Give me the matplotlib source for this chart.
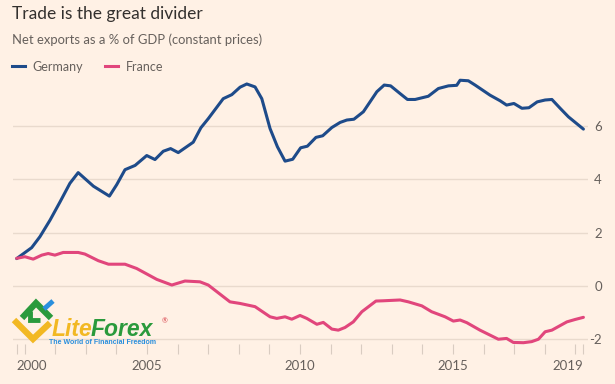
import matplotlib
matplotlib.use("Agg")
import matplotlib.pyplot as plt
from matplotlib.lines import Line2D

# Germany, net exports % of GDP (vertices)
de_year = [2000.74, 2001.23, 2001.50, 2001.83, 2002.16, 2002.48, 2002.75, 2003.25, 2003.77,
           2004.01, 2004.28, 2004.61, 2004.99, 2005.26, 2005.53, 2005.77, 2006.02, 2006.51,
           2006.76, 2007.00, 2007.49, 2007.77, 2008.04, 2008.26, 2008.53, 2008.75, 2009.02,
           2009.26, 2009.51, 2009.76, 2010.02, 2010.24, 2010.52, 2010.74, 2011.04, 2011.31,
           2011.53, 2011.76, 2012.07, 2012.51, 2012.75, 2012.96, 2013.27, 2013.51, 2013.76,
           2014.19, 2014.52, 2014.85, 2015.12, 2015.23, 2015.50, 2015.72, 2016.21, 2016.54,
           2016.75, 2016.99, 2017.25, 2017.48, 2017.75, 2018.01, 2018.23, 2018.50, 2018.77,
           2019.26]
de_val = [1.03, 1.44, 1.85, 2.47, 3.16, 3.85, 4.25, 3.74, 3.37,
          3.80, 4.36, 4.52, 4.89, 4.74, 5.05, 5.15, 5.00, 5.39,
          5.93, 6.27, 7.02, 7.17, 7.45, 7.57, 7.46, 7.02, 5.90,
          5.22, 4.68, 4.75, 5.18, 5.24, 5.57, 5.63, 5.94, 6.13,
          6.22, 6.25, 6.53, 7.28, 7.53, 7.50, 7.21, 6.99, 6.99,
          7.11, 7.40, 7.50, 7.52, 7.71, 7.69, 7.53, 7.15, 6.94,
          6.78, 6.84, 6.66, 6.68, 6.90, 6.97, 6.99, 6.66, 6.34,
          5.88]

# France
fr_year = [2000.74, 2001.01, 2001.28, 2001.56, 2001.77, 2001.99, 2002.26, 2002.75, 2002.97,
           2003.41, 2003.74, 2004.28, 2004.66, 2005.32, 2005.81, 2006.24, 2006.73, 2007.00,
           2007.71, 2008.04, 2008.53, 2009.02, 2009.24, 2009.51, 2009.73, 2010.00, 2010.22,
           2010.55, 2010.76, 2011.04, 2011.25, 2011.47, 2011.74, 2012.02, 2012.48, 2012.72,
           2013.27, 2013.54, 2013.98, 2014.30, 2014.74, 2015.01, 2015.23, 2015.45, 2015.88,
           2016.48, 2016.75, 2016.97, 2017.30, 2017.57, 2017.79, 2018.01, 2018.23, 2018.72,
           2018.99, 2019.26]
fr_val = [1.04, 1.10, 1.01, 1.16, 1.22, 1.16, 1.26, 1.26, 1.20,
          0.95, 0.82, 0.82, 0.66, 0.25, 0.04, 0.19, 0.16, 0.04,
          -0.59, -0.65, -0.77, -1.15, -1.21, -1.15, -1.24, -1.10, -1.21,
          -1.43, -1.36, -1.61, -1.65, -1.55, -1.34, -0.96, -0.56, -0.55,
          -0.52, -0.59, -0.74, -0.96, -1.15, -1.31, -1.27, -1.37, -1.65,
          -1.99, -1.96, -2.11, -2.12, -2.08, -1.99, -1.71, -1.65, -1.34,
          -1.25, -1.17]

y_ticks = [-2, 0, 2, 4, 6]
x_labels = {2000.74: "2000", 2005: "2005", 2010: "2010", 2015: "2015", 2019.26: "2019"}

bg = "#FFF1E5"
grey = "#66605C"
W, H = 615, 384

plt.rcParams['font.family'] = ['Lato', 'DejaVu Sans']

fig = plt.figure(figsize=(W / 100, H / 100), dpi=100, facecolor=bg)
ax = fig.add_axes([13 / W, 1 - 343.5 / H, (588 - 13) / W, (343.5 - 72.5) / H])
ax.set_facecolor(bg)

ax.plot(de_year, de_val, color="#1E4B8A", lw=2.2, solid_capstyle="round", zorder=3, clip_on=False)
ax.plot(fr_year, fr_val, color="#E1467C", lw=2.2, solid_capstyle="round", zorder=3, clip_on=False)

ax.set_xlim(2000.62, 2019.41)
ax.set_ylim(-2.15, 8.0)

for s in ax.spines.values():
    s.set_visible(False)

ax.set_yticks(y_ticks)
ax.set_yticklabels([str(v) for v in y_ticks])
ax.yaxis.tick_right()
ax.tick_params(axis="y", length=0, pad=10, labelsize=9.5, labelcolor=grey)
for lbl in ax.get_yticklabels():
    lbl.set_ha("right")
ax.grid(axis="y", color="#E9DACD", lw=1)

# year ticks
minor = [2000.74] + list(range(2001, 2020)) + [2019.26]
ax.set_xticks(minor, minor=True)
ax.tick_params(axis="x", which="minor", length=7, width=0.8, color="#D9CCC1")
ax.set_xticks(list(x_labels.keys()))
ax.set_xticklabels(list(x_labels.values()))
ax.tick_params(axis="x", which="major", length=7, width=0.8, color="#D9CCC1",
               labelsize=9.5, labelcolor=grey, pad=5)
xl = ax.get_xticklabels()
xl[0].set_ha("left")
xl[-1].set_ha("right")

# titles and legend
fig.text(12 / W, 1 - 14 / H, "Trade is the great divider", fontsize=12.5, color="#33302E", va="center")
fig.text(12 / W, 1 - 40 / H, "Net exports as a % of GDP (constant prices)", fontsize=9.4, color=grey, va="center")
fig.add_artist(Line2D([12 / W, 25 / W], [1 - 66 / H] * 2, color="#1E4B8A", lw=2.2))
fig.text(32 / W, 1 - 67 / H, "Germany", fontsize=9, color=grey, va="center")
fig.add_artist(Line2D([105 / W, 118 / W], [1 - 66 / H] * 2, color="#E1467C", lw=2.2))
fig.text(126 / W, 1 - 67 / H, "France", fontsize=9, color=grey, va="center")

# watermark logo
def px(x, y):
    return x / W, 1 - y / H

def stroke(pts, color, lw):
    xs, ys = zip(*[px(a, b) for a, b in pts])
    fig.add_artist(Line2D(xs, ys, color=color, lw=lw, solid_capstyle="butt", solid_joinstyle="miter", zorder=5))

stroke([(14, 320), (33, 339), (50, 323)], "#F2B823", 4.5)
stroke([(22, 318), (36, 303), (51, 318)], "#2A9A3C", 4.5)
stroke([(30, 311), (30, 320), (40, 320)], "#2A9A3C", 3.5)
stroke([(44, 309), (53, 301)], "#2A8FDD", 3.5)
logo_font = ["Liberation Sans", "DejaVu Sans"]
lite = fig.text(52 / W, 1 - 336 / H, "Lite", fontsize=16.5, fontweight="bold", fontstyle="italic",
                family=logo_font, color="#F2B823", va="baseline", zorder=5)
renderer = fig.canvas.get_renderer()
lite_right = lite.get_window_extent(renderer).x1
fig.text((lite_right - 2.5) / W, 1 - 336 / H, "Forex", fontsize=16.5, fontweight="bold", fontstyle="italic",
         family=logo_font, color="#2A9A3C", va="baseline", zorder=5)
fig.text(162 / W, 1 - 321 / H, "®", fontsize=5, color="#D8404A", va="center", zorder=5)
fig.text(49 / W, 1 - 339.5 / H, "The World of Financial Freedom", fontsize=5.0, fontweight="bold",
         family=logo_font, color="#2A8FDD", va="top", zorder=5)

fig.savefig("out.png", dpi=100, facecolor=bg)
